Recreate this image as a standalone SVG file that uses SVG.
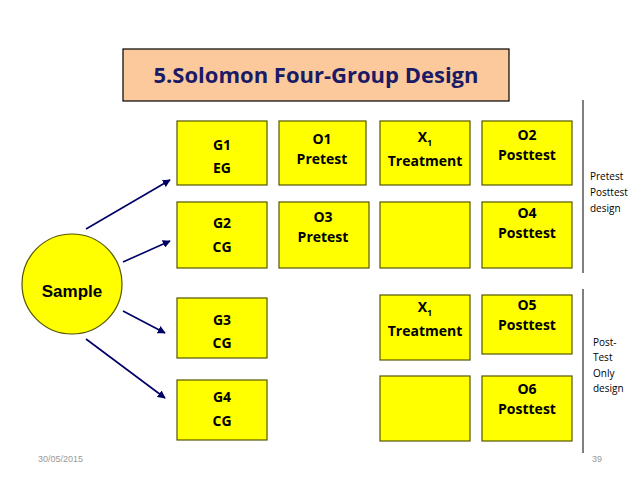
<svg xmlns="http://www.w3.org/2000/svg" width="638" height="479" viewBox="0 0 638 479">
<style>
.b{fill:#ffff00;stroke:#555500;stroke-width:1.2}
.t{font-family:"Open Sans","Liberation Sans",sans-serif;font-weight:bold;font-size:14px;fill:#000;text-anchor:middle}
.s{font-family:"Open Sans","Liberation Sans",sans-serif;font-size:10px;fill:#000}
.c{stroke:#000066;stroke-width:1.6;marker-end:url(#a)}
</style>
<defs><marker id="a" viewBox="0 0 10 10" refX="9" refY="5" markerWidth="5" markerHeight="5" orient="auto"><path d="M0,0L10,5L0,10z" fill="#000066"/></marker></defs>
<rect width="638" height="479" fill="#fff"/>
<g id="title"><rect x="123" y="49" width="386" height="52" fill="#fbc99b" stroke="#000" stroke-width="1.2"/>
<text x="316" y="83" font-family="'Open Sans','Liberation Sans',sans-serif" font-weight="bold" font-size="22" fill="#1a1a66" text-anchor="middle">5.Solomon Four-Group Design</text></g>
<g id="sample"><ellipse cx="72" cy="284" rx="50" ry="50" fill="#ffff00" stroke="#555500" stroke-width="1.2"/><text x="72" y="297" font-family="'Liberation Sans',sans-serif" font-weight="bold" font-size="17" text-anchor="middle">Sample</text></g>
<g id="g1"><rect class="b" x="177" y="121" width="90" height="64"/><text class="t" x="222" y="150">G1</text><text class="t" x="222" y="173">EG</text></g>
<g id="o1"><rect class="b" x="279" y="121" width="87" height="64"/><text class="t" x="322" y="144">O1</text><text class="t" x="322" y="164">Pretest</text></g>
<g id="x1a"><rect class="b" x="380" y="121" width="90" height="64"/><text class="t" x="425" y="142">X<tspan font-size="9" dy="4">1</tspan></text><text class="t" x="425" y="166">Treatment</text></g>
<g id="o2"><rect class="b" x="482" y="121" width="90" height="64"/><text class="t" x="527" y="140">O2</text><text class="t" x="527" y="160">Posttest</text></g>
<g id="g2"><rect class="b" x="177" y="202" width="90" height="66"/><text class="t" x="222" y="228">G2</text><text class="t" x="222" y="252">CG</text></g>
<g id="o3"><rect class="b" x="279" y="202" width="90" height="66"/><text class="t" x="323" y="222">O3</text><text class="t" x="323" y="242">Pretest</text></g>
<g id="blank1"><rect class="b" x="380" y="202" width="90" height="66"/></g>
<g id="o4"><rect class="b" x="482" y="202" width="90" height="66"/><text class="t" x="527" y="218">O4</text><text class="t" x="527" y="238">Posttest</text></g>
<g id="g3"><rect class="b" x="177" y="298" width="90" height="60"/><text class="t" x="222" y="325">G3</text><text class="t" x="222" y="348" font-size="11">CG</text></g>
<g id="x1b"><rect class="b" x="380" y="295" width="90" height="65"/><text class="t" x="425" y="312">X<tspan font-size="9" dy="4">1</tspan></text><text class="t" x="425" y="336">Treatment</text></g>
<g id="o5"><rect class="b" x="482" y="295" width="90" height="59"/><text class="t" x="527" y="310">O5</text><text class="t" x="527" y="330">Posttest</text></g>
<g id="g4"><rect class="b" x="177" y="380" width="90" height="60"/><text class="t" x="222" y="402">G4</text><text class="t" x="222" y="426">CG</text></g>
<g id="blank2"><rect class="b" x="380" y="376" width="90" height="65"/></g>
<g id="o6"><rect class="b" x="482" y="376" width="90" height="65"/><text class="t" x="527" y="394">O6</text><text class="t" x="527" y="414">Posttest</text></g>
<g id="connectors">
<line class="c" x1="86" y1="229" x2="170" y2="180"/>
<line class="c" x1="123" y1="262" x2="170" y2="241"/>
<line class="c" x1="123" y1="311" x2="165" y2="333"/>
<line class="c" x1="86" y1="339" x2="165" y2="398"/>
<line x1="583" y1="100" x2="583" y2="273" stroke="#000" stroke-width="1"/>
<line x1="583" y1="289" x2="583" y2="453" stroke="#000" stroke-width="1"/>
</g>
<g id="labels">
<text class="s" x="590" y="180">Pretest</text><text class="s" x="590" y="196">Posttest</text><text class="s" x="590" y="212">design</text>
<text class="s" x="593" y="346">Post-</text><text class="s" x="593" y="361">Test</text><text class="s" x="593" y="377">Only</text><text class="s" x="593" y="392">design</text>
<text x="38" y="462" font-family="'Liberation Sans',sans-serif" font-size="9" fill="#999">30/05/2015</text>
<text x="592" y="462" font-family="'Liberation Sans',sans-serif" font-size="9" fill="#999">39</text>
</g>
</svg>
